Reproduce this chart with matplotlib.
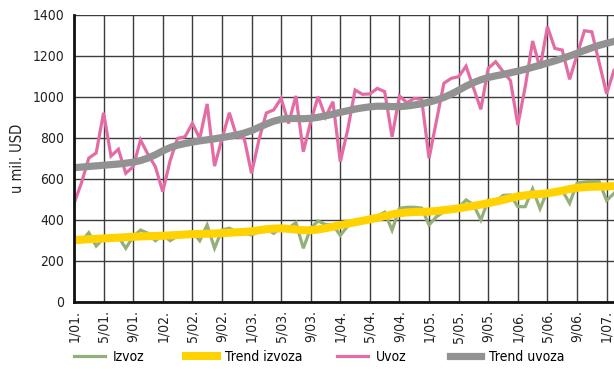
import matplotlib
matplotlib.use("Agg")
import matplotlib.pyplot as plt

# monthly values, 1/2001 .. 2/2007 (mil. USD)
izvoz = [295, 295, 338, 273, 311, 302, 319, 262, 319, 351, 335, 299,
         327, 299, 322, 335, 343, 299, 376, 262, 351, 360, 343, 336,
         327, 343, 355, 335, 364, 360, 387, 262, 360, 395, 378, 376,
         325, 370, 400, 395, 405, 418, 438, 350, 457, 462, 462, 458,
         376, 416, 440, 457, 460, 498, 475, 400, 497, 490, 520, 522,
         465, 465, 552, 455, 542, 525, 545, 481, 579, 585, 588, 587,
         495, 530]
trend_izvoza = [302, 304, 306, 308, 310, 312, 314, 316, 318, 320, 321, 322,
                323, 325, 327, 329, 331, 332, 333, 334, 336, 338, 340, 342,
                345, 350, 355, 358, 359, 357, 353, 350, 350, 354, 360, 367,
                375, 382, 389, 396, 403, 411, 419, 427, 433, 437, 439, 440,
                441, 444, 448, 452, 457, 463, 469, 475, 482, 490, 498, 507,
                515, 520, 524, 527, 530, 536, 543, 551, 557, 560, 562, 563,
                564, 565]
uvoz = [480, 580, 702, 727, 923, 712, 745, 628, 660, 790, 720, 660,
        538, 690, 798, 806, 871, 798, 966, 663, 795, 923, 806, 800,
        628, 790, 922, 937, 993, 871, 1005, 733, 880, 1002, 902, 977,
        684, 840, 1034, 1013, 1015, 1042, 1026, 806, 1005, 972, 993, 989,
        701, 884, 1067, 1091, 1099, 1150, 1045, 940, 1140, 1172, 1124, 1080,
        863, 1050, 1273, 1140, 1343, 1237, 1229, 1086, 1205, 1323, 1318, 1167,
        1016, 1130]
trend_uvoza = [655, 658, 661, 664, 667, 670, 673, 677, 682, 690, 702, 718,
               737, 753, 765, 773, 780, 786, 791, 796, 802, 808, 815, 824,
               836, 852, 868, 882, 891, 895, 895, 894, 896, 901, 908, 916,
               925, 933, 941, 947, 952, 955, 955, 953, 953, 956, 961, 967,
               975, 985, 998, 1014, 1033, 1053, 1070, 1084, 1095, 1103, 1110, 1118,
               1126, 1135, 1145, 1155, 1166, 1176, 1188, 1200, 1213, 1227, 1240, 1252,
               1262, 1271]

tick_pos = list(range(0, 73, 4))
tick_labels = ["1/01.", "5/01.", "9/01.", "1/02.", "5/02.", "9/02.", "1/03.",
               "5/03.", "9/03.", "1/04.", "5/04.", "9/04.", "1/05.", "5/05.",
               "9/05.", "1/06.", "5/06.", "9/06.", "1/07."]

plt.rcParams["font.family"] = ["DejaVu Sans"]
plt.rcParams["font.stretch"] = "condensed"

fig = plt.figure(figsize=(6.14, 3.69), dpi=100)
ax = fig.add_axes([0.1205, 0.1816, 0.8795, 0.7778])

x = list(range(len(uvoz)))
lines = []
lines += ax.plot(x, izvoz, color="#94b07a", lw=2.3, label="Izvoz", solid_joinstyle="miter")
lines += ax.plot(x, trend_izvoza, color="#ffd200", lw=5.8, label="Trend izvoza")
lines += ax.plot(x, uvoz, color="#e46ca5", lw=2.3, label="Uvoz", solid_joinstyle="miter")
lines += ax.plot(x, trend_uvoza, color="#929292", lw=5.2, label="Trend uvoza")

ax.set_xlim(0, 73.0)
ax.set_ylim(0, 1400)
ax.set_yticks(range(0, 1401, 200))
ax.set_xticks(tick_pos)
ax.set_xticklabels(tick_labels, rotation=90)
ax.tick_params(length=0, labelsize=10, colors="#222222")
ax.tick_params(axis="y", pad=7)
ax.tick_params(axis="x", pad=6)

ax.grid(True, color="#3c3c3c", lw=1.0)
ax.set_axisbelow(True)
for s in ("top", "right"):
    ax.spines[s].set_visible(False)
for s in ("left", "bottom"):
    ax.spines[s].set_linewidth(2)
    ax.spines[s].set_color("#111111")
    ax.spines[s].set_zorder(5)

ax.set_ylabel("u mil. USD", fontsize=10.5, color="#222222")
ax.yaxis.set_label_coords(-0.09, 0.5)

# one legend entry per slot along the bottom
legend_x = [74, 186, 337, 450]
for line, lx in zip(lines, legend_x):
    fig.legend(handles=[line], loc="center left", bbox_to_anchor=(lx / 614, 0.033),
               frameon=False, fontsize=10, handlelength=2.2, handletextpad=0.6,
               borderaxespad=0, borderpad=0)

fig.savefig("out.png", dpi=100)
